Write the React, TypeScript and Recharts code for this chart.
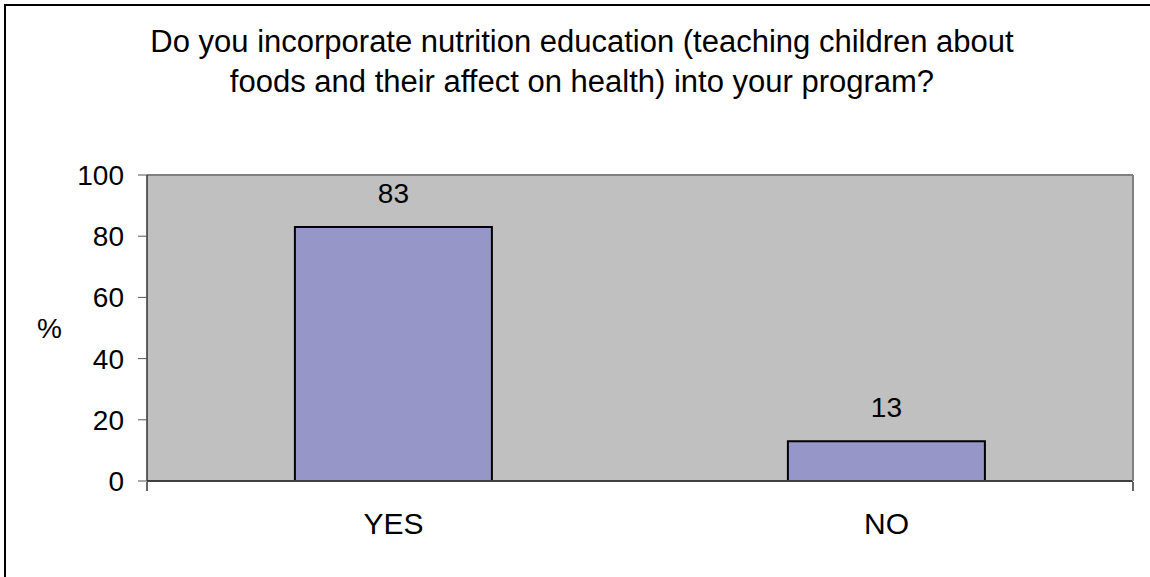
import { BarChart, Bar, XAxis, YAxis, CartesianGrid, LabelList } from 'recharts'

const categories = ['YES', 'NO']
const percentValues = [83, 13]
const yTicks = [0, 20, 40, 60, 80, 100]
const edgeTicks = [0, 1, 2]

const titleLines = [
  'Do you incorporate nutrition education (teaching children about',
  'foods and their affect on health) into your program?',
]

const FONT = '"Liberation Sans", Arial, sans-serif'

const data = categories.map((name, i) => ({ name, value: percentValues[i] }))

const App = () => {
  return (
    <div
      style={{
        position: 'absolute',
        top: 0,
        left: 0,
        width: 1150,
        height: 577,
        overflow: 'hidden',
        background: '#fff',
        fontFamily: FONT,
      }}
    >
      {/* chart frame, cropped at right and bottom */}
      <div
        style={{
          position: 'absolute',
          left: 4,
          top: 4,
          width: 1200,
          height: 640,
          borderTop: '2px solid #000',
          borderLeft: '2px solid #000',
        }}
      />
      <div
        style={{
          position: 'absolute',
          top: 22,
          left: 582 - 520,
          width: 1040,
          textAlign: 'center',
          fontSize: 31,
          lineHeight: '40px',
          color: '#000',
        }}
      >
        {titleLines.map((line) => (
          <div key={line}>{line}</div>
        ))}
      </div>
      <div style={{ position: 'absolute', top: 0, left: 0 }}>
        <BarChart
          width={1150}
          height={577}
          data={data}
          margin={{ top: 174, right: 16, bottom: 94, left: 0 }}
          barCategoryGap="30%"
        >
          <CartesianGrid fill="#C0C0C0" horizontal={false} vertical={false} />
          <XAxis
            dataKey="name"
            height={1}
            tickSize={0}
            tickMargin={32}
            tickLine={false}
            axisLine={{ stroke: '#404040', strokeWidth: 2 }}
            tick={{ fill: '#000', fontSize: 30, fontFamily: FONT }}
          />
          {/* category boundary ticks, Excel style */}
          <XAxis
            xAxisId="edge"
            type="number"
            domain={[0, 2]}
            ticks={edgeTicks}
            height={1}
            tickSize={9}
            tickFormatter={() => ''}
            tickLine={{ stroke: '#333', strokeWidth: 1.5 }}
            axisLine={false}
          />
          <XAxis
            xAxisId="top"
            dataKey="name"
            orientation="top"
            height={1}
            tick={false}
            tickLine={false}
            axisLine={{ stroke: '#808080', strokeWidth: 2 }}
          />
          <YAxis
            yAxisId="right"
            orientation="right"
            width={1}
            domain={[0, 100]}
            tick={false}
            tickLine={false}
            axisLine={{ stroke: '#808080', strokeWidth: 2 }}
          />
          <YAxis
            width={147}
            domain={[0, 100]}
            ticks={yTicks}
            tickSize={9}
            tickMargin={14}
            tickLine={{ stroke: '#555' }}
            axisLine={{ stroke: '#333', strokeWidth: 1.5 }}
            tick={{ fill: '#000', fontSize: 28, fontFamily: FONT }}
            label={{
              value: '%',
              position: 'insideLeft',
              offset: 37,
              fill: '#000',
              fontSize: 28,
              fontFamily: FONT,
            }}
          />
          <Bar dataKey="value" fill="#9696C8" stroke="#000" strokeWidth={2} isAnimationActive={false}>
            <LabelList dataKey="value" position="top" offset={24} fill="#000" fontSize={28} fontFamily={FONT} />
          </Bar>
        </BarChart>
      </div>
    </div>
  )
}

export default App
